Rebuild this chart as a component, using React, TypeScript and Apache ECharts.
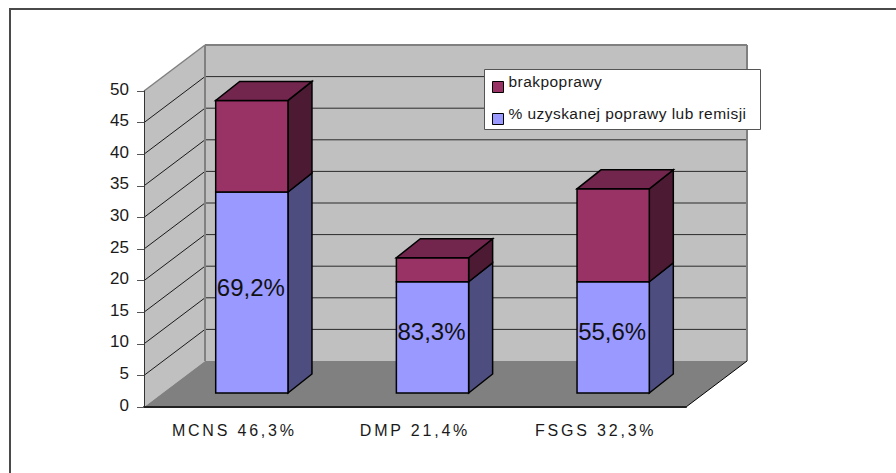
import React, { useEffect, useRef } from "react";
import * as echarts from "echarts";

const categories = ["MCNS 46,3%", "DMP 21,4%", "FSGS 32,3%"];
const improvedValues = [31.8, 17.6, 17.6];
const notImprovedValues = [14.5, 3.8, 14.7];
const improvedShareLabels = ["69,2%", "83,3%", "55,6%"];
const yTicks = [5, 10, 15, 20, 25, 30, 35, 40, 45];
const improvedName = "% uzyskanej poprawy lub remisji";
const notImprovedName = "brakpoprawy";

const FONT = '"Liberation Sans", Arial, sans-serif';
// Oblique projection of the 3D box: back wall offset from the front plane.
const WALL_DX = 61;
const WALL_DY = -46;
// Where each column stands on the floor and how deep it is.
const BAR_SHIFT_X = 17.5;
const BAR_SHIFT_Y = -14;
const BAR_DEPTH_X = 24;
const BAR_DEPTH_Y = -19;

const poly = (points: number[][], fill: string, stroke?: string, lineWidth = 1) => ({
  type: "polygon",
  shape: { points },
  style: { fill, stroke: stroke ?? "none", lineWidth },
});

const seg = (a: number[], b: number[], stroke: string, lineWidth: number) => ({
  type: "line",
  shape: { x1: a[0], y1: a[1], x2: b[0], y2: b[1] },
  style: { stroke, lineWidth, fill: "none" },
});

function renderWalls(params: any, api: any) {
  const { x: left, width } = params.coordSys;
  const right = left + width;
  const y0 = api.coord([0, 0])[1];
  const y50 = api.coord([0, 50])[1];
  const back = (x: number, y: number) => [x + WALL_DX, y + WALL_DY];
  const grey = "#808080";
  const children: any[] = [
    poly([back(left, y50), back(right, y50), back(right, y0), back(left, y0)], "#c0c0c0"),
    poly([[left, y0], back(left, y0), back(left, y50), [left, y50]], "#c0c0c0"),
    poly([[left, y0], [right, y0], back(right, y0), back(left, y0)], "#808080"),
  ];
  yTicks.forEach((tick) => {
    const y = api.coord([0, tick])[1];
    children.push(seg([left, y], back(left, y), "#1a1a1a", 1));
    children.push(seg(back(left, y), back(right, y), "#2a2a2a", 1));
  });
  children.push(seg(back(left, y50), back(right, y50), grey, 2));
  children.push(seg(back(left, y50), back(left, y0), grey, 2));
  children.push(seg(back(right, y50), back(right, y0), grey, 2));
  children.push(seg([left, y50], back(left, y50), grey, 1.5));
  children.push(seg([right, y0], back(right, y0), "#000000", 1));
  return { type: "group", children };
}

const makeBarRenderer =
  (front: string, side: string, top: string | null) => (params: any, api: any) => {
    const index = api.value(0);
    const center = api.coord([index, 0])[0] + BAR_SHIFT_X;
    const half = (api.size([1, 0])[0] * 0.4) / 2;
    const yLow = api.coord([index, api.value(1)])[1] + BAR_SHIFT_Y;
    const yHigh = api.coord([index, api.value(2)])[1] + BAR_SHIFT_Y;
    const l = center - half;
    const r = center + half;
    const dx = BAR_DEPTH_X;
    const dy = BAR_DEPTH_Y;
    const children: any[] = [
      poly([[r, yLow], [r + dx, yLow + dy], [r + dx, yHigh + dy], [r, yHigh]], side, "#000000", 1.5),
      poly([[l, yLow], [r, yLow], [r, yHigh], [l, yHigh]], front, "#000000", 1.5),
    ];
    if (top) {
      children.push(
        poly([[l, yHigh], [r, yHigh], [r + dx, yHigh + dy], [l + dx, yHigh + dy]], top, "#000000", 1.5)
      );
    }
    return { type: "group", children };
  };

// Percent captions sit on the lower block of each column, above both blocks in paint order.
function renderShareLabel(params: any, api: any) {
  const index = api.value(0);
  const center = api.coord([index, 0])[0] + BAR_SHIFT_X;
  const yLow = api.coord([index, api.value(1)])[1] + BAR_SHIFT_Y;
  const yHigh = api.coord([index, api.value(2)])[1] + BAR_SHIFT_Y;
  return {
    type: "text",
    style: {
      text: improvedShareLabels[index],
      x: center - 1,
      y: (yLow + yHigh) / 2 - 5.5,
      align: "center",
      verticalAlign: "middle",
      font: `24px ${FONT}`,
      fill: "#111111",
    },
  };
}

function stackData(base: number[], values: number[]) {
  return values.map((v, i) => [i, base[i], +(base[i] + v).toFixed(1)]);
}

export default function App() {
  const ref = useRef<HTMLDivElement>(null);

  useEffect(() => {
    document.body.style.margin = "0";
    const chart = echarts.init(ref.current!, undefined, { renderer: "svg" });
    chart.setOption({
      animation: false,
      backgroundColor: "#ffffff",
      grid: { left: 144, top: 91, width: 542, height: 316 },
      xAxis: {
        type: "category",
        data: categories,
        z: 5,
        axisLine: { lineStyle: { color: "#222222", width: 2 } },
        axisTick: { length: 7, lineStyle: { color: "#666666", width: 1 } },
        axisLabel: { margin: 15, color: "#1a1a1a", fontFamily: FONT, fontSize: 16 },
      },
      yAxis: {
        type: "value",
        min: 0,
        max: 50,
        interval: 5,
        z: 5,
        axisLine: { show: true, lineStyle: { color: "#333333", width: 1 } },
        axisTick: { show: true, length: 7, lineStyle: { color: "#555555", width: 1 } },
        splitLine: { show: false },
        axisLabel: {
          margin: 15,
          formatter: "{t|{value}}",
          rich: {
            t: { color: "#1a1a1a", fontFamily: FONT, fontSize: 17, lineHeight: 18, padding: [0, 0, 4, 0] },
          },
        },
      },
      legend: {
        orient: "vertical",
        left: 492,
        top: 73,
        padding: 0,
        itemGap: 4,
        itemWidth: 11,
        itemHeight: 11,
        icon: "rect",
        selectedMode: false,
        z: 6,
        data: [notImprovedName, improvedName],
        itemStyle: { borderColor: "#000000", borderWidth: 1 },
        formatter: (name: string) => `{t|${name}}`,
        textStyle: {
          rich: {
            t: { color: "#1a1a1a", fontFamily: FONT, fontSize: 15.5, lineHeight: 18, padding: [0, 0, 12, 0] },
          },
        },
      },
      graphic: [
        { type: "rect", z: 4, shape: { x: 484.5, y: 69.5, width: 276, height: 60 }, style: { fill: "#ffffff", stroke: "#555555", lineWidth: 1 } },
        { type: "rect", z: 4, shape: { x: 9, y: 8, width: 887, height: 2 }, style: { fill: "#4a4a4a" } },
        { type: "rect", z: 4, shape: { x: 9, y: 8, width: 2, height: 465 }, style: { fill: "#4a4a4a" } },
      ],
      series: [
        { type: "custom", name: "walls", z: 1, silent: true, renderItem: renderWalls, data: [[0, 0, 50]], encode: { x: 0, y: 2 } },
        {
          type: "custom",
          name: improvedName,
          z: 2,
          itemStyle: { color: "#9999ff" },
          renderItem: makeBarRenderer("#9999ff", "#4d4d80", null),
          data: stackData([0, 0, 0], improvedValues),
          encode: { x: 0, y: [1, 2] },
        },
        {
          type: "custom",
          name: notImprovedName,
          z: 3,
          itemStyle: { color: "#993366" },
          renderItem: makeBarRenderer("#993366", "#4d1a33", "#73264d"),
          data: stackData(improvedValues, notImprovedValues),
          encode: { x: 0, y: [1, 2] },
        },
        {
          type: "custom",
          name: "shares",
          z: 4,
          silent: true,
          renderItem: renderShareLabel,
          data: stackData([0, 0, 0], improvedValues),
          encode: { x: 0, y: [1, 2] },
        },
      ],
    });

    // The chart's original typesetting is widely tracked; SVG text takes this directly.
    const dom = ref.current!;
    dom.querySelectorAll("text").forEach((t) => {
      const s = t.textContent ?? "";
      if (categories.includes(s)) t.style.letterSpacing = "2.8px";
      else if (s === improvedName || s === notImprovedName) t.style.letterSpacing = "0.45px";
    });

    return () => chart.dispose();
  }, []);

  return <div ref={ref} style={{ position: "fixed", left: 0, top: 0, width: 896, height: 473 }} />;
}
